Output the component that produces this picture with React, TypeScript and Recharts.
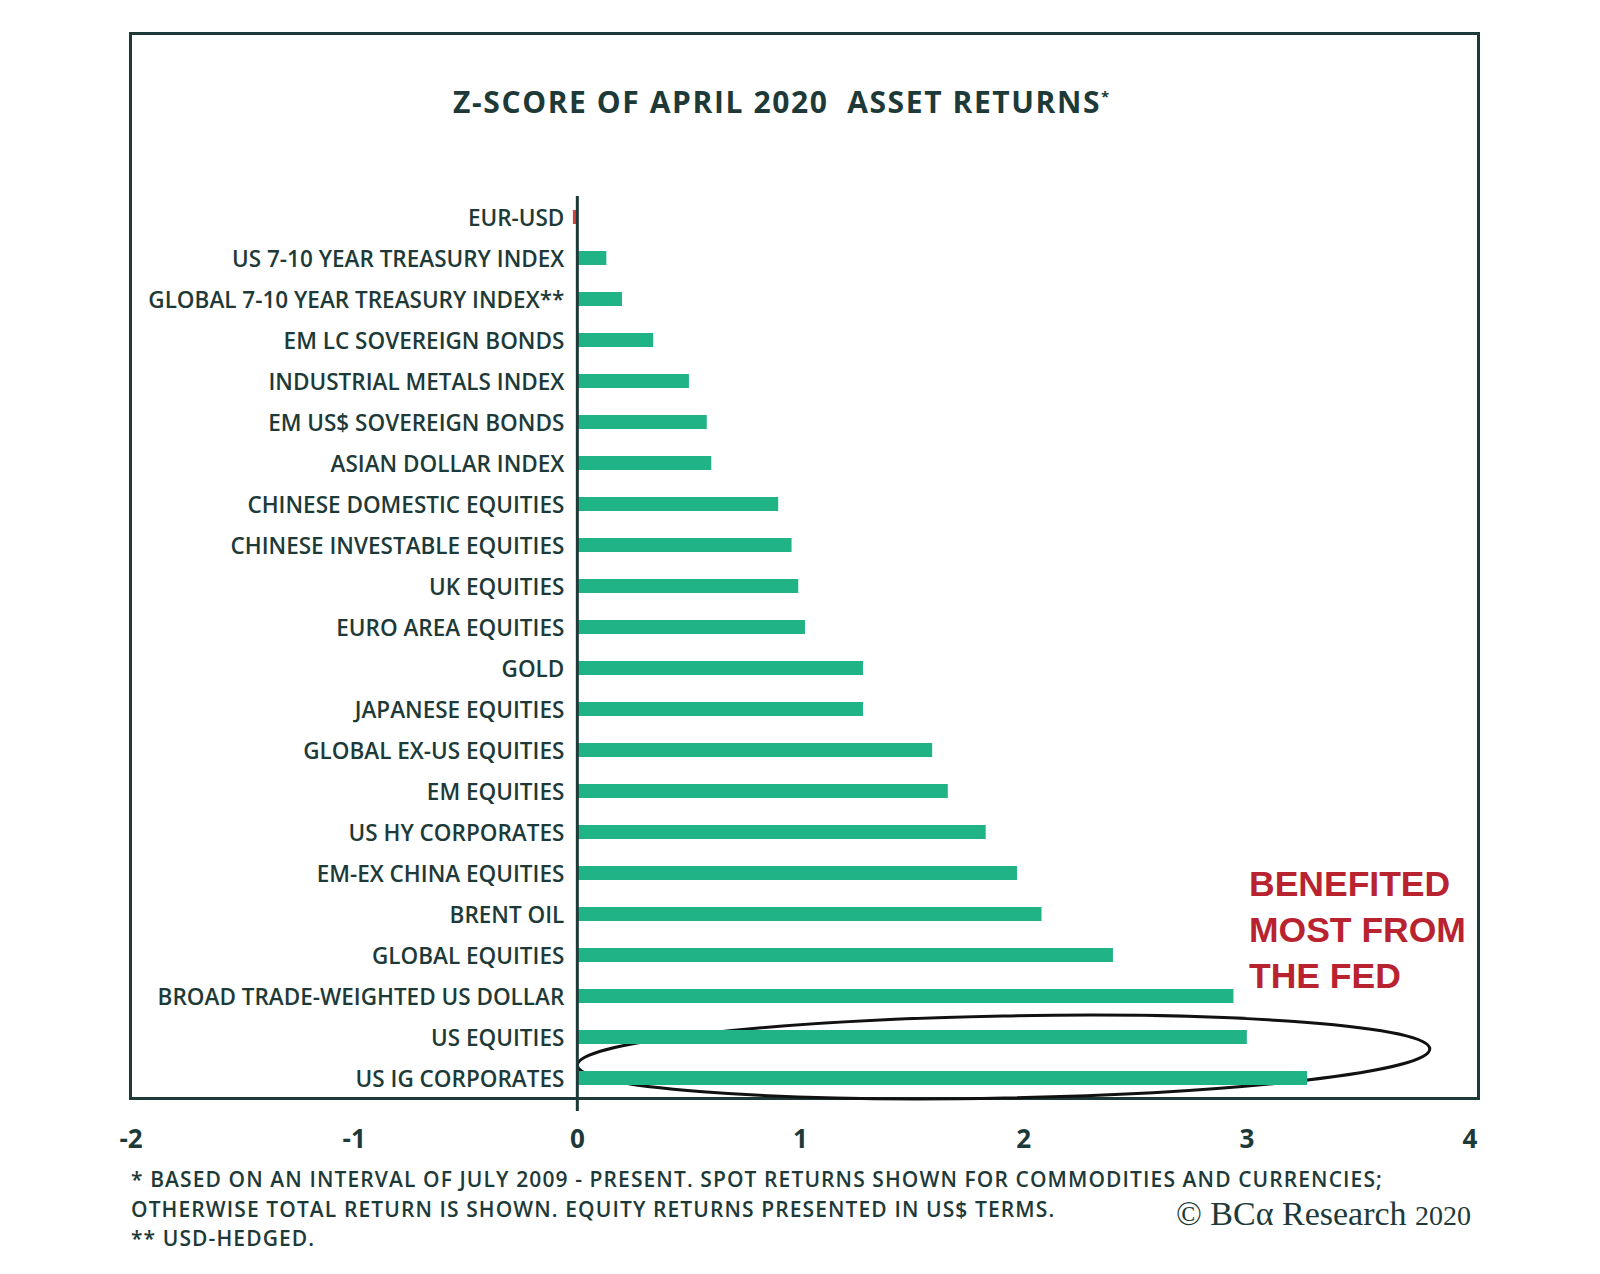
import React from 'react';
import { Bar, BarChart, Cell, LabelList, ReferenceArea, ReferenceLine, XAxis, YAxis } from 'recharts';

const assets = [
  'EUR-USD',
  'US 7-10 YEAR TREASURY INDEX',
  'GLOBAL 7-10 YEAR TREASURY INDEX**',
  'EM LC SOVEREIGN BONDS',
  'INDUSTRIAL METALS INDEX',
  'EM US$ SOVEREIGN BONDS',
  'ASIAN DOLLAR INDEX',
  'CHINESE DOMESTIC EQUITIES',
  'CHINESE INVESTABLE EQUITIES',
  'UK EQUITIES',
  'EURO AREA EQUITIES',
  'GOLD',
  'JAPANESE EQUITIES',
  'GLOBAL EX-US EQUITIES',
  'EM EQUITIES',
  'US HY CORPORATES',
  'EM-EX CHINA EQUITIES',
  'BRENT OIL',
  'GLOBAL EQUITIES',
  'BROAD TRADE-WEIGHTED US DOLLAR',
  'US EQUITIES',
  'US IG CORPORATES',
];

const zScores = [
  -0.02, 0.13, 0.2, 0.34, 0.5, 0.58, 0.6, 0.9, 0.96, 0.99, 1.02, 1.28, 1.28, 1.59, 1.66, 1.83,
  1.97, 2.08, 2.4, 2.94, 3.0, 3.27,
];

const xTicks = [-2, -1, 0, 1, 2, 3, 4];

const footnotes = [
  '* BASED ON AN INTERVAL OF JULY 2009 - PRESENT. SPOT RETURNS SHOWN FOR COMMODITIES AND CURRENCIES;',
  'OTHERWISE TOTAL RETURN IS SHOWN. EQUITY RETURNS PRESENTED IN US$ TERMS.',
  '** USD-HEDGED.',
];

const annotation = ['BENEFITED', 'MOST FROM', 'THE FED'];

const data = assets.map((name, i) => ({ name, value: zScores[i] }));

const DARK = '#1d3a39';
const GREEN = '#1fb386';
const RED = '#d6453d';
const FONT = '"Open Sans", "Noto Sans", sans-serif';

// category name drawn just left of the zero line, right aligned
const AssetLabel = (props: any) => {
  const { x, y, width, height, index } = props;
  const v = data[index].value;
  const zeroX = v < 0 ? Math.max(x, x + width) : Math.min(x, x + width);
  return (
    <text
      x={zeroX - 13}
      y={y + height / 2}
      textAnchor="end"
      dominantBaseline="central"
      fill={DARK}
      fontSize={22.5}
      fontWeight={600}
      fontFamily={FONT}
    >
      {data[index].name}
    </text>
  );
};

const Ellipse = (props: any) => {
  const { x, y, width, height } = props;
  const cx = x + width / 2;
  const cy = y + height / 2;
  return (
    <ellipse
      cx={cx}
      cy={cy}
      rx={width / 2}
      ry={height / 2}
      fill="none"
      stroke="#111"
      strokeWidth={3}
      transform={`rotate(-1.1 ${cx} ${cy})`}
    />
  );
};

// zero line starts at the top of the first bar, not the top of the plot
const ZeroLine = (props: any) => {
  const { x1, y1, x2, y2 } = props;
  return <line x1={x1} y1={y1 + 13} x2={x2} y2={y2} stroke={DARK} strokeWidth={3} />;
};

export default function App() {
  return (
    <div style={{ position: 'absolute', left: 0, top: 0, width: 1600, height: 1274, background: '#fff' }}>
      <div
        style={{
          position: 'absolute',
          left: 129,
          top: 32,
          width: 1351,
          height: 1068,
          boxSizing: 'border-box',
          border: `3.5px solid ${DARK}`,
        }}
      />
      <div
        style={{
          position: 'absolute',
          left: 282,
          top: 81,
          width: 1000,
          textAlign: 'center',
          fontFamily: FONT,
          fontWeight: 700,
          fontSize: 30,
          letterSpacing: 1.6,
          color: DARK,
        }}
      >
        Z-SCORE OF APRIL 2020&nbsp; ASSET RETURNS<sup style={{ fontSize: 15 }}>*</sup>
      </div>
      <BarChart
        width={1600}
        height={1274}
        data={data}
        layout="vertical"
        margin={{ top: 196, right: 130, bottom: 116, left: 131 }}
        style={{ position: 'absolute', left: 0, top: 0 }}
      >
        <XAxis
          type="number"
          domain={[-2, 4]}
          ticks={xTicks}
          axisLine={false}
          tickLine={false}
          height={60}
          tickMargin={26}
          tick={{ fill: DARK, fontSize: 26, fontWeight: 700, fontFamily: FONT }}
          interval={0}
        />
        <YAxis type="category" dataKey="name" hide width={0} />
        <Bar dataKey="value" barSize={14} isAnimationActive={false}>
          {data.map((d, i) => (
            <Cell key={i} fill={d.value < 0 ? RED : GREEN} />
          ))}
          <LabelList dataKey="name" content={AssetLabel} />
        </Bar>
        <ReferenceLine x={0} shape={ZeroLine} />
        <ReferenceArea
          x1={0}
          x2={3.82}
          y1="US EQUITIES"
          y2="US IG CORPORATES"
          shape={Ellipse}
          ifOverflow="visible"
        />
      </BarChart>
      <div
        style={{
          position: 'absolute',
          left: 1249,
          top: 861,
          fontFamily: '"Liberation Sans", Arial, sans-serif',
          fontWeight: 700,
          fontSize: 35.5,
          lineHeight: '46px',
          color: '#b8232f',
        }}
      >
        {annotation.map((l) => (
          <div key={l}>{l}</div>
        ))}
      </div>
      <div
        style={{
          position: 'absolute',
          left: 131,
          top: 1165,
          fontFamily: FONT,
          fontWeight: 600,
          fontSize: 21,
          letterSpacing: 1.1,
          color: DARK,
          lineHeight: '29.5px',
        }}
      >
        {footnotes.map((l) => (
          <div key={l}>{l}</div>
        ))}
      </div>
      <div
        style={{
          position: 'absolute',
          left: 1176,
          top: 1195,
          fontFamily: '"Liberation Serif", "DejaVu Serif", serif',
          fontSize: 34,
          color: DARK,
          whiteSpace: 'nowrap',
        }}
      >
        © BCα Research <span style={{ fontSize: 28 }}>2020</span>
      </div>
    </div>
  );
}
